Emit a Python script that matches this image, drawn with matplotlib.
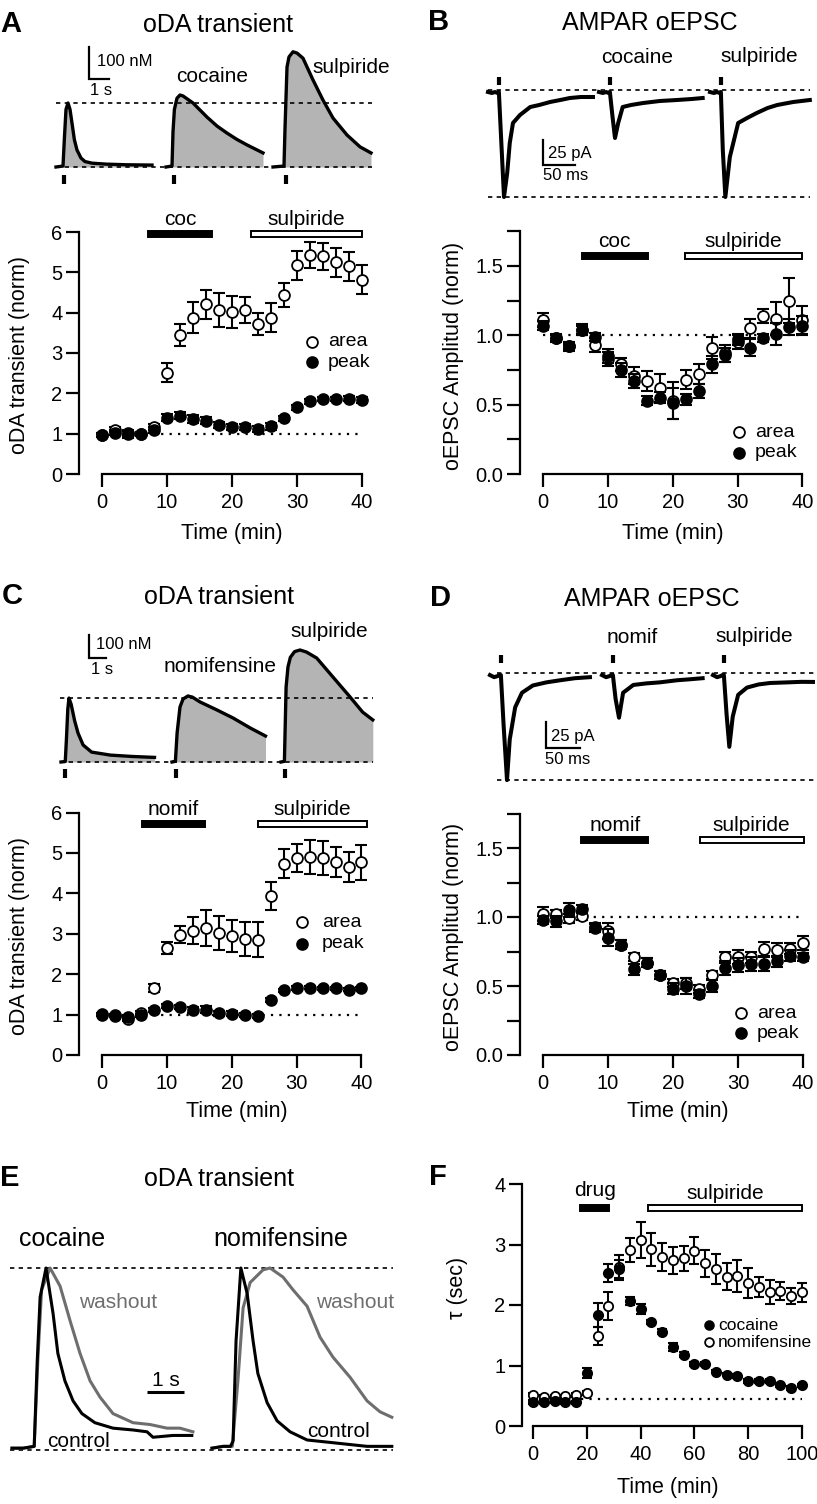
import numpy as np
import matplotlib
matplotlib.use("Agg")
import matplotlib.pyplot as plt
from matplotlib.patches import Rectangle

plt.rcParams['font.family'] = ['Liberation Sans', 'DejaVu Sans']

W, H = 817, 1504
fig = plt.figure(figsize=(W / 100, H / 100), dpi=100)

GRAY_FILL = '#b4b4b4'
WASH = '#6e6e6e'

# ====== time-course data ======
t40 = [0, 2, 4, 6, 8, 10, 12, 14, 16, 18, 20, 22, 24, 26, 28, 30, 32, 34, 36, 38, 40]
t100 = [0, 4, 8, 12, 16, 20, 24, 28, 32, 36, 40, 44, 48, 52, 56, 60, 64, 68, 72, 76, 80,
        84, 88, 92, 96, 100]

a_area = [0.97, 1.10, 0.98, 1.00, 1.16, 2.51, 3.45, 3.88, 4.21, 4.06, 4.02, 4.07, 3.72,
          3.88, 4.43, 5.17, 5.43, 5.40, 5.25, 5.15, 4.82]
a_area_err = [0.05, 0.06, 0.08, 0.05, 0.08, 0.23, 0.27, 0.38, 0.36, 0.42, 0.40, 0.32, 0.28,
              0.35, 0.30, 0.37, 0.33, 0.33, 0.36, 0.36, 0.35]
a_peak = [0.96, 1.02, 1.01, 0.99, 1.09, 1.40, 1.45, 1.36, 1.32, 1.21, 1.16, 1.16, 1.11,
          1.18, 1.38, 1.65, 1.80, 1.86, 1.86, 1.87, 1.83]
a_peak_err = [0.05, 0.06, 0.07, 0.05, 0.07, 0.08, 0.09, 0.10, 0.09, 0.08, 0.08, 0.08, 0.08,
              0.08, 0.07, 0.06, 0.06, 0.05, 0.06, 0.06, 0.07]

b_area = [1.11, 0.98, 0.92, 1.04, 0.93, 0.83, 0.79, 0.71, 0.67, 0.62, 0.53, 0.68, 0.72,
          0.91, 0.87, 0.95, 1.05, 1.14, 1.12, 1.25, 1.11]
b_area_err = [0.05, 0.03, 0.03, 0.04, 0.05, 0.05, 0.05, 0.06, 0.07, 0.10, 0.13, 0.07, 0.07,
              0.08, 0.06, 0.05, 0.07, 0.05, 0.12, 0.16, 0.10]
b_peak = [1.07, 0.98, 0.92, 1.04, 0.99, 0.85, 0.75, 0.67, 0.53, 0.55, 0.51, 0.54, 0.60,
          0.79, 0.86, 0.97, 0.91, 0.98, 1.01, 1.06, 1.07]
b_peak_err = [0.03, 0.02, 0.02, 0.03, 0.03, 0.05, 0.05, 0.05, 0.03, 0.04, 0.11, 0.04, 0.05,
              0.06, 0.05, 0.04, 0.06, 0.03, 0.08, 0.06, 0.07]

c_area = [1.00, 0.97, 0.89, 1.04, 1.66, 2.65, 2.98, 3.08, 3.15, 3.03, 2.94, 2.88, 2.85,
          3.93, 4.74, 4.88, 4.89, 4.88, 4.77, 4.65, 4.77]
c_area_err = [0.04, 0.04, 0.05, 0.05, 0.10, 0.15, 0.22, 0.33, 0.44, 0.42, 0.40, 0.42, 0.43,
              0.35, 0.37, 0.35, 0.42, 0.42, 0.37, 0.38, 0.44]
c_peak = [1.01, 0.98, 0.95, 0.98, 1.11, 1.22, 1.20, 1.11, 1.12, 1.03, 1.02, 0.99, 0.97,
          1.37, 1.60, 1.66, 1.67, 1.65, 1.65, 1.62, 1.65]
c_peak_err = [0.04, 0.04, 0.05, 0.04, 0.05, 0.05, 0.05, 0.08, 0.09, 0.06, 0.06, 0.06, 0.05,
              0.05, 0.04, 0.04, 0.04, 0.04, 0.04, 0.04, 0.04]

d_area = [1.02, 1.02, 0.99, 1.01, 0.93, 0.90, 0.80, 0.71, 0.67, 0.58, 0.52, 0.52, 0.48,
          0.58, 0.71, 0.71, 0.71, 0.77, 0.76, 0.77, 0.81]
d_area_err = [0.05, 0.03, 0.03, 0.03, 0.03, 0.06, 0.03, 0.03, 0.03, 0.03, 0.03, 0.04, 0.03,
              0.03, 0.04, 0.05, 0.04, 0.05, 0.05, 0.04, 0.05]
d_peak = [0.98, 0.97, 1.05, 1.06, 0.92, 0.85, 0.80, 0.62, 0.67, 0.58, 0.48, 0.50, 0.44,
          0.50, 0.63, 0.65, 0.66, 0.66, 0.68, 0.72, 0.71]
d_peak_err = [0.03, 0.04, 0.05, 0.03, 0.03, 0.06, 0.03, 0.04, 0.03, 0.03, 0.04, 0.06, 0.03,
              0.04, 0.05, 0.05, 0.05, 0.05, 0.04, 0.04, 0.03]

f_coc = [0.40, 0.40, 0.41, 0.40, 0.39, 0.88, 1.84, 2.53, 2.60, 2.07, 1.93, 1.72, 1.56,
         1.31, 1.18, 1.03, 1.02, 0.90, 0.85, 0.83, 0.74, 0.74, 0.74, 0.67, 0.63, 0.67]
f_coc_err = [0.03, 0.03, 0.03, 0.03, 0.03, 0.08, 0.20, 0.15, 0.15, 0.07, 0.08, 0.04, 0.04,
             0.07, 0.04, 0.03, 0.03, 0.03, 0.03, 0.03, 0.03, 0.03, 0.03, 0.03, 0.03, 0.03]
f_nom = [0.52, 0.48, 0.49, 0.49, 0.51, 0.55, 1.49, 1.98, 2.62, 2.91, 3.08, 2.92, 2.79,
         2.74, 2.77, 2.90, 2.69, 2.60, 2.47, 2.48, 2.36, 2.30, 2.22, 2.23, 2.15, 2.21]
f_nom_err = [0.03, 0.03, 0.03, 0.03, 0.03, 0.03, 0.15, 0.23, 0.20, 0.20, 0.30, 0.27, 0.23,
             0.22, 0.20, 0.23, 0.22, 0.25, 0.22, 0.27, 0.25, 0.17, 0.20, 0.15, 0.13, 0.16]

# drug application periods (min)
a_drug, a_sulp = (7.1, 16.9), (22.9, 40.0)
b_drug, b_sulp = (5.9, 16.1), (21.9, 40.0)
c_drug, c_sulp = (6.2, 15.9), (24.0, 40.8)
d_drug, d_sulp = (5.9, 16.2), (24.1, 40.1)
f_drug, f_sulp = (17.5, 28.3), (42.9, 100.0)

# ====== example traces ======
# oDA transients (s, nM)
a_ctrl_t = [0, 0.35, 0.42, 0.5, 0.6, 0.7, 0.8, 0.92, 1.05, 1.25, 1.45, 1.8, 2.5, 3.5, 4.8]
a_ctrl_y = [0, 3, 90, 180, 200, 180, 137, 85, 53, 28, 17, 12, 9, 7, 6]
a_coc_t = [0, 0.3, 0.35, 0.42, 0.55, 0.7, 0.85, 1.35, 2.05, 2.55, 3.05, 3.55, 4.05, 4.85]
a_coc_y = [0, 3, 110, 180, 215, 225, 222, 200, 156, 128, 106, 86, 69, 44]
a_sul_t = [0, 0.55, 0.6, 0.7, 0.8, 1.0, 1.2, 1.5, 2.0, 2.5, 3.0, 3.7, 4.35, 4.9]
a_sul_y = [0, 3, 120, 312, 344, 360, 356, 340, 272, 209, 153, 100, 63, 44]

c_ctrl_t = [0, 0.25, 0.32, 0.4, 0.47, 0.6, 0.8, 1.0, 1.3, 1.8, 2.9, 4.2, 5.5]
c_ctrl_y = [0, 2, 100, 230, 278, 250, 180, 126, 74, 43, 30, 24, 20]
c_nom_t = [0, 0.2, 0.3, 0.47, 0.65, 0.94, 1.2, 1.65, 2.65, 3.6, 4.6, 5.5]
c_nom_y = [0, 3, 126, 239, 274, 287, 282, 261, 226, 191, 148, 113]
c_sul_t = [0, 0.2, 0.3, 0.41, 0.55, 0.8, 1.12, 1.5, 2.1, 3.05, 4.06, 4.8, 5.4]
c_sul_y = [0, 3, 326, 413, 455, 480, 487, 478, 452, 370, 283, 217, 183]

# AMPAR oEPSCs (ms, pA)
b_ctrl_t = [0, 6, 11, 15, 17, 21, 25, 30, 34, 39, 50, 66, 80, 97, 113, 128, 145, 164]
b_ctrl_y = [-2, -3, -2, -3, -2, -55, -107, -83, -53, -33, -25, -17, -15, -12, -10, -8, -7, -7]
b_coc_t = [0, 6, 11, 15, 17, 21, 25, 30, 37, 50, 69, 95, 122, 145, 162]
b_coc_y = [-2, -3, -2, -3, -2, -26, -48, -33, -17, -15, -13, -11, -10, -9, -8]
b_sul_t = [0, 6, 11, 15, 17, 20, 24, 31, 44, 58, 73, 90, 105, 130, 156]
b_sul_y = [-2, -3, -2, -3, -2, -60, -107, -67, -33, -28, -23, -18, -15, -12, -10]

d_ctrl_t = [0, 6, 11, 14, 16, 20, 25, 29, 37, 47, 63, 83, 103, 125, 147]
d_ctrl_y = [-2, -4, -3, -2, -2, -50, -103, -64, -33, -19, -12, -9, -7, -5, -4]
d_nom_t = [0, 6, 11, 14, 16, 20, 25, 31, 46, 65, 85, 110, 130, 148]
d_nom_y = [-2, -4, -3, -2, -2, -25, -43, -19, -11.5, -10, -9, -7, -6, -5]
d_sul_t = [0, 6, 11, 14, 16, 20, 24, 29, 37, 50, 67, 84, 110, 130, 147]
d_sul_y = [-2, -4, -3, -2, -2, -40, -71, -42, -21, -14, -11, -9.6, -9, -8.5, -8.6]

# normalized transients, panel E (s, norm)
e_coc_ctrl_t = [0, 0.3, 0.6, 0.68, 0.76, 0.92, 1.11, 1.24, 1.43, 1.65, 1.89, 2.24, 2.73,
                3.27, 3.65, 3.81, 4.35, 4.86]
e_coc_ctrl_y = [0.01, 0.01, 0.02, 0.48, 0.84, 1.0, 0.75, 0.53, 0.38, 0.27, 0.2, 0.15, 0.12,
                0.11, 0.10, 0.07, 0.08, 0.08]
e_coc_wash_t = [0, 0.3, 0.6, 0.7, 0.8, 1.03, 1.3, 1.57, 1.84, 2.11, 2.38, 2.73, 3.27, 3.73,
                4.19, 4.54, 4.89]
e_coc_wash_y = [0.01, 0.01, 0.02, 0.5, 0.88, 1.0, 0.9, 0.71, 0.53, 0.38, 0.29, 0.2, 0.15,
                0.14, 0.12, 0.12, 0.1]
e_nom_ctrl_t = [0, 0.3, 0.5, 0.57, 0.65, 0.78, 0.95, 1.11, 1.24, 1.49, 1.76, 2.11, 2.57,
                3.27, 4.19, 4.86]
e_nom_ctrl_y = [0.01, 0.02, 0.02, 0.05, 0.6, 1.0, 0.86, 0.6, 0.42, 0.26, 0.16, 0.10, 0.055,
                0.04, 0.02, 0.02]
e_nom_wash_t = [0, 0.3, 0.55, 0.7, 0.84, 1.03, 1.38, 1.57, 1.92, 2.19, 2.57, 2.92, 3.27,
                3.73, 4.19, 4.54, 4.86]
e_nom_wash_y = [0.01, 0.02, 0.02, 0.38, 0.78, 0.92, 0.99, 1.0, 0.95, 0.88, 0.79, 0.62, 0.51,
                0.4, 0.27, 0.21, 0.18]


# ====== helpers ======
def make_axes(box, xmap, ymap):
    # box in pixels (left, top, right, bottom); maps: ((value, px), (value, px))
    left, top, right, bottom = box
    (xa, xpa), (xb, xpb) = xmap
    (ya, ypa), (yb, ypb) = ymap
    ax = fig.add_axes([left / W, 1 - bottom / H, (right - left) / W, (bottom - top) / H])
    sx = (xpb - xpa) / (xb - xa)
    sy = (ypb - ypa) / (yb - ya)
    ax.set_xlim(xa + (left - xpa) / sx, xa + (right - xpa) / sx)
    ax.set_ylim(ya + (bottom - ypa) / sy, ya + (top - ypa) / sy)
    ax.patch.set_alpha(0)
    return ax


def px2data(ax, x, y):
    return ax.transData.inverted().transform((x, H - y))


def ftext(x, y, s, size, ha='center', va='baseline', **kw):
    fig.text(x / W, 1 - y / H, s, fontsize=size, ha=ha, va=va, **kw)


def panel_head(letter, lx, title, tx, y):
    ftext(lx, y, letter, 21, fontweight='bold')
    ftext(tx, y, title, 18)


def style_axes(ax, xb, yb, xticks, yticks, ylabels=None):
    for s in ['top', 'right']:
        ax.spines[s].set_visible(False)
    for s in ['left', 'bottom']:
        ax.spines[s].set_linewidth(1.6)
    ax.spines['left'].set_bounds(*yb)
    ax.spines['bottom'].set_bounds(*xb)
    ax.set_xticks(xticks)
    ax.set_yticks(yticks)
    if ylabels is not None:
        ax.set_yticklabels(ylabels)
    ax.tick_params(direction='out', length=9.5, width=1.6, labelsize=14.5)
    ax.tick_params(axis='x', pad=4.5)
    ax.tick_params(axis='y', pad=2.5)


def series(ax, t, y, e, filled, z, ms=7.8, cap=4.3):
    ax.errorbar(t, y, yerr=e, fmt='none', ecolor='black', elinewidth=1.5, capsize=cap,
                capthick=1.5, zorder=z, clip_on=False)
    ax.plot(t, y, 'o', ms=ms, mfc='black' if filled else 'white', mec='black', mew=1.3,
            zorder=z + 0.5, clip_on=False)


def drug_bar(ax, span, y, h_px, filled, text, gap_px=9):
    h = h_px * abs(px2data(ax, 0, 0)[1] - px2data(ax, 0, 1)[1])
    ax.add_patch(Rectangle((span[0], y - h / 2), span[1] - span[0], h,
                           facecolor='black' if filled else 'white', edgecolor='black',
                           lw=1.4, clip_on=False, zorder=6))
    ax.annotate(text, xy=((span[0] + span[1]) / 2, y), xytext=(0, gap_px * 0.72),
                textcoords='offset points', ha='center', va='baseline', fontsize=15)


def legend_entry(x, y, filled, text, tx, ty, ms=7.8, size=14):
    fig.lines.append(plt.Line2D([x / W], [1 - y / H], marker='o', ms=ms, lw=0,
                                mfc='black' if filled else 'white', mec='black', mew=1.3,
                                transform=fig.transFigure))
    ftext(tx, ty, text, size, ha='left')


def hline(ax, x0, x1, y, style):
    if style == 'dash':
        ax.plot([x0, x1], [y, y], color='black', lw=1.2, dashes=(2.6, 2.6), zorder=1)
    else:
        ax.plot([x0, x1], [y, y], color='black', lw=1.6, dashes=(1, 2.8), zorder=1)


def stim_marks(ax, xs, y0_px, y1_px):
    y0 = px2data(ax, 0, y0_px)[1]
    y1 = px2data(ax, 0, y1_px)[1]
    for x in xs:
        ax.plot([x, x], [y0, y1], color='black', lw=3.0, solid_capstyle='butt')


def scale_bar(ax, x_px, y_px, dx, dy):
    x0, y0 = px2data(ax, x_px, y_px)
    ax.plot([x0, x0, x0 + dx], [y0 + dy, y0, y0], color='black', lw=1.6,
            solid_joinstyle='miter')


def da_traces(ax, traces, starts_px, x0_px, sx, stims, stim_px):
    offs = [(s - x0_px) / sx for s in starts_px]
    for (t, y), off in zip(traces, offs):
        tt = np.array(t) + off
        ax.fill_between(tt, 0, y, color=GRAY_FILL, lw=0)
        ax.plot(tt, y, color='black', lw=2.4, solid_joinstyle='round')
    stim_marks(ax, [o + s for o, s in zip(offs, stims)], *stim_px)


def epsc_traces(ax, traces, starts_px, x0_px, sx, stim_t, stim_px):
    offs = [(s - x0_px) / sx for s in starts_px]
    for (t, y), off in zip(traces, offs):
        ax.plot(np.array(t) + off, y, color='black', lw=2.9, solid_joinstyle='round')
    stim_marks(ax, [o + stim_t for o in offs], *stim_px)


# ====== A: oDA transient (cocaine) ======
panel_head('A', 11, 'oDA transient', 218, 32)
axt = make_axes((40, 35, 385, 190), ((0, 56), (1, 76)), ((0, 167), (100, 135)))
axt.axis('off')
da_traces(axt, [(a_ctrl_t, a_ctrl_y), (a_coc_t, a_coc_y), (a_sul_t, a_sul_y)],
          [56, 166, 273], 56, 20, [0.4, 0.4, 0.65], (175, 184))
hline(axt, 0, 15.8, 0, 'dash')
hline(axt, 0, 15.8, max(a_ctrl_y), 'dash')
scale_bar(axt, 89, 79, 1, 100)
ftext(97, 66, '100 nM', 12, ha='left')
ftext(90, 95, '1 s', 12, ha='left')
ftext(212, 82, 'cocaine', 15)
ftext(351, 73, 'sulpiride', 15)

ax = make_axes((79, 205, 385, 474), ((0, 102), (40, 362)), ((0, 474), (6, 232)))
style_axes(ax, (0, 40), (0, 6), [0, 10, 20, 30, 40], [0, 1, 2, 3, 4, 5, 6])
hline(ax, 0, 40, 1, 'dot')
series(ax, t40, a_area, a_area_err, False, 2)
series(ax, t40, a_peak, a_peak_err, True, 4)
drug_bar(ax, a_drug, 5.95, 6, True, 'coc')
drug_bar(ax, a_sulp, 5.95, 6, False, 'sulpiride')
legend_entry(312, 342, False, 'area', 328, 346)
legend_entry(312, 362, True, 'peak', 328, 367)
ftext(20, 355, 'oDA transient (norm)', 15.5, va='center', rotation=90)
ftext(232, 533, 'Time (min)', 15.5, va='center')

# ====== B: AMPAR oEPSC (cocaine) ======
panel_head('B', 439, 'AMPAR oEPSC', 650, 30)
axt = make_axes((480, 60, 817, 205), ((0, 488), (50, 520)), ((0, 90), (-25, 115)))
axt.axis('off')
epsc_traces(axt, [(b_ctrl_t, b_ctrl_y), (b_coc_t, b_coc_y), (b_sul_t, b_sul_y)],
            [488, 599, 710], 488, 32 / 50, 17, (77, 85))
x_end = px2data(axt, 810, 0)[0]
hline(axt, 0, x_end, 0, 'dash')
hline(axt, 0, x_end, min(b_ctrl_y), 'dash')
scale_bar(axt, 543, 165, 50, 25)
ftext(548, 158, '25 pA', 12, ha='left')
ftext(543, 180, '50 ms', 12, ha='left')
ftext(637, 63, 'cocaine', 15)
ftext(759, 62, 'sulpiride', 15)

ax = make_axes((520, 220, 817, 474), ((0, 543.3), (40, 802.3)), ((0, 474), (1.5, 266)))
style_axes(ax, (0, 40), (0, 1.75), [0, 10, 20, 30, 40],
           [0, 0.25, 0.5, 0.75, 1.0, 1.25, 1.5, 1.75],
           ['0.0', '', '0.5', '', '1.0', '', '1.5', ''])
hline(ax, 0, 40, 1, 'dot')
series(ax, t40, b_area, b_area_err, False, 2)
series(ax, t40, b_peak, b_peak_err, True, 4)
drug_bar(ax, b_drug, 1.575, 6, True, 'coc')
drug_bar(ax, b_sulp, 1.575, 6, False, 'sulpiride')
legend_entry(739, 432, False, 'area', 755, 437)
legend_entry(739, 453, True, 'peak', 755, 457)
ftext(453, 356, 'oEPSC Amplitud (norm)', 15.5, va='center', rotation=90)
ftext(673, 533, 'Time (min)', 15.5, va='center')

# ====== C: oDA transient (nomifensine) ======
panel_head('C', 12, 'oDA transient', 219, 604)
axt = make_axes((40, 620, 385, 790), ((0, 61), (1, 78)), ((0, 762), (100, 739)))
axt.axis('off')
da_traces(axt, [(c_ctrl_t, c_ctrl_y), (c_nom_t, c_nom_y), (c_sul_t, c_sul_y)],
          [61, 172, 281], 61, 17, [0.24, 0.24, 0.24], (769, 778))
x_end = px2data(axt, 373, 0)[0]
x_beg = px2data(axt, 60, 0)[0]
hline(axt, x_beg, x_end, 0, 'dash')
hline(axt, x_beg, x_end, max(c_ctrl_y), 'dash')
scale_bar(axt, 89, 658, 1, 100)
ftext(96, 649, '100 nM', 12, ha='left')
ftext(91, 674, '1 s', 12, ha='left')
ftext(220, 672, 'nomifensine', 15)
ftext(329, 637, 'sulpiride', 15)

ax = make_axes((79, 800, 385, 1055), ((0, 102), (40, 361.5)), ((0, 1055), (5, 853)))
style_axes(ax, (0, 40), (0, 6), [0, 10, 20, 30, 40], [0, 1, 2, 3, 4, 5, 6])
hline(ax, 0, 40, 1, 'dot')
series(ax, t40, c_area, c_area_err, False, 2)
series(ax, t40, c_peak, c_peak_err, True, 4)
drug_bar(ax, c_drug, 5.72, 6, True, 'nomif')
drug_bar(ax, c_sulp, 5.72, 6, False, 'sulpiride')
legend_entry(302, 922, False, 'area', 322, 927)
legend_entry(302, 944, True, 'peak', 322, 948)
ftext(20, 936, 'oDA transient (norm)', 15.5, va='center', rotation=90)
ftext(237, 1112, 'Time (min)', 15.5, va='center')

# ====== D: AMPAR oEPSC (nomifensine) ======
panel_head('D', 440, 'AMPAR oEPSC', 652, 606)
axt = make_axes((480, 640, 817, 790), ((0, 490), (50, 524)), ((0, 673), (-25, 699)))
axt.axis('off')
epsc_traces(axt, [(d_ctrl_t, d_ctrl_y), (d_nom_t, d_nom_y), (d_sul_t, d_sul_y)],
            [490, 602, 713], 490, 34 / 50, 16, (655, 663))
x_beg = px2data(axt, 497, 0)[0]
x_end = px2data(axt, 817, 0)[0]
hline(axt, x_beg, x_end, 0, 'dash')
hline(axt, x_beg, x_end, min(d_ctrl_y), 'dash')
scale_bar(axt, 546, 748, 50, 25)
ftext(551, 741, '25 pA', 12, ha='left')
ftext(545, 764, '50 ms', 12, ha='left')
ftext(632, 643, 'nomif', 15)
ftext(754, 642, 'sulpiride', 15)

ax = make_axes((520, 800, 817, 1055), ((0, 543), (40, 803)), ((0, 1055), (1.5, 848)))
style_axes(ax, (0, 40), (0, 1.75), [0, 10, 20, 30, 40],
           [0, 0.25, 0.5, 0.75, 1.0, 1.25, 1.5, 1.75],
           ['0.0', '', '0.5', '', '1.0', '', '1.5', ''])
hline(ax, 0, 40, 1, 'dot')
series(ax, t40, d_area, d_area_err, False, 2)
series(ax, t40, d_peak, d_peak_err, True, 4)
drug_bar(ax, d_drug, 1.56, 6, True, 'nomif')
drug_bar(ax, d_sulp, 1.56, 6, False, 'sulpiride')
legend_entry(741, 1013, False, 'area', 757, 1018)
legend_entry(741, 1033, True, 'peak', 757, 1038)
ftext(453, 937, 'oEPSC Amplitud (norm)', 15.5, va='center', rotation=90)
ftext(678, 1112, 'Time (min)', 15.5, va='center')

# ====== E: normalized transients ======
panel_head('E', 10, 'oDA transient', 219, 1186)
axt = make_axes((5, 1255, 405, 1460), ((0, 12), (1, 49)), ((0, 1450), (1, 1268)))
axt.axis('off')
nom_off = (212 - 12) / 37
axt.plot(e_coc_wash_t, e_coc_wash_y, color=WASH, lw=2.2)
axt.plot(e_coc_ctrl_t, e_coc_ctrl_y, color='black', lw=2.2)
axt.plot(np.array(e_nom_wash_t) + nom_off, e_nom_wash_y, color=WASH, lw=2.2)
axt.plot(np.array(e_nom_ctrl_t) + nom_off, e_nom_ctrl_y, color='black', lw=2.2)
x_beg = px2data(axt, 10, 0)[0]
x_end = px2data(axt, 393, 0)[0]
hline(axt, x_beg, x_end, 0, 'dash')
hline(axt, x_beg, x_end, 1, 'dash')
sx0, sy0 = px2data(axt, 147, 1392)
axt.plot([sx0, sx0 + 1], [sy0, sy0], color='black', lw=2.2, solid_capstyle='butt')
ftext(166, 1386, '1 s', 15)
ftext(62, 1246, 'cocaine', 18)
ftext(281, 1246, 'nomifensine', 18)
ftext(118, 1308, 'washout', 15, color=WASH)
ftext(355, 1308, 'washout', 15, color=WASH)
ftext(79, 1447, 'control', 15)
ftext(338, 1437, 'control', 15)

# ====== F: decay time constant ======
ftext(438, 1185, 'F', 21, fontweight='bold')
ax = make_axes((522, 1170, 817, 1426), ((0, 533), (100, 802)), ((0, 1426), (4, 1184)))
style_axes(ax, (0, 100), (0, 4), [0, 20, 40, 60, 80, 100], [0, 1, 2, 3, 4])
hline(ax, 18, 100, 0.45, 'dot')
series(ax, t100, f_nom, f_nom_err, False, 2, ms=6.7, cap=3.6)
series(ax, t100, f_coc, f_coc_err, True, 4, ms=6.7, cap=3.6)
drug_bar(ax, f_drug, 3.61, 6, True, 'drug', gap_px=12)
drug_bar(ax, f_sulp, 3.61, 6, False, 'sulpiride')
legend_entry(709, 1325, True, 'cocaine', 718, 1330, ms=6.3, size=12.5)
legend_entry(709, 1342, False, 'nomifensine', 718, 1347, ms=6.3, size=12.5)
ftext(458, 1288, 'τ (sec)', 15.5, va='center', rotation=90)
ftext(668, 1488, 'Time (min)', 15.5, va='center')

fig.savefig('out.png', dpi=100)
